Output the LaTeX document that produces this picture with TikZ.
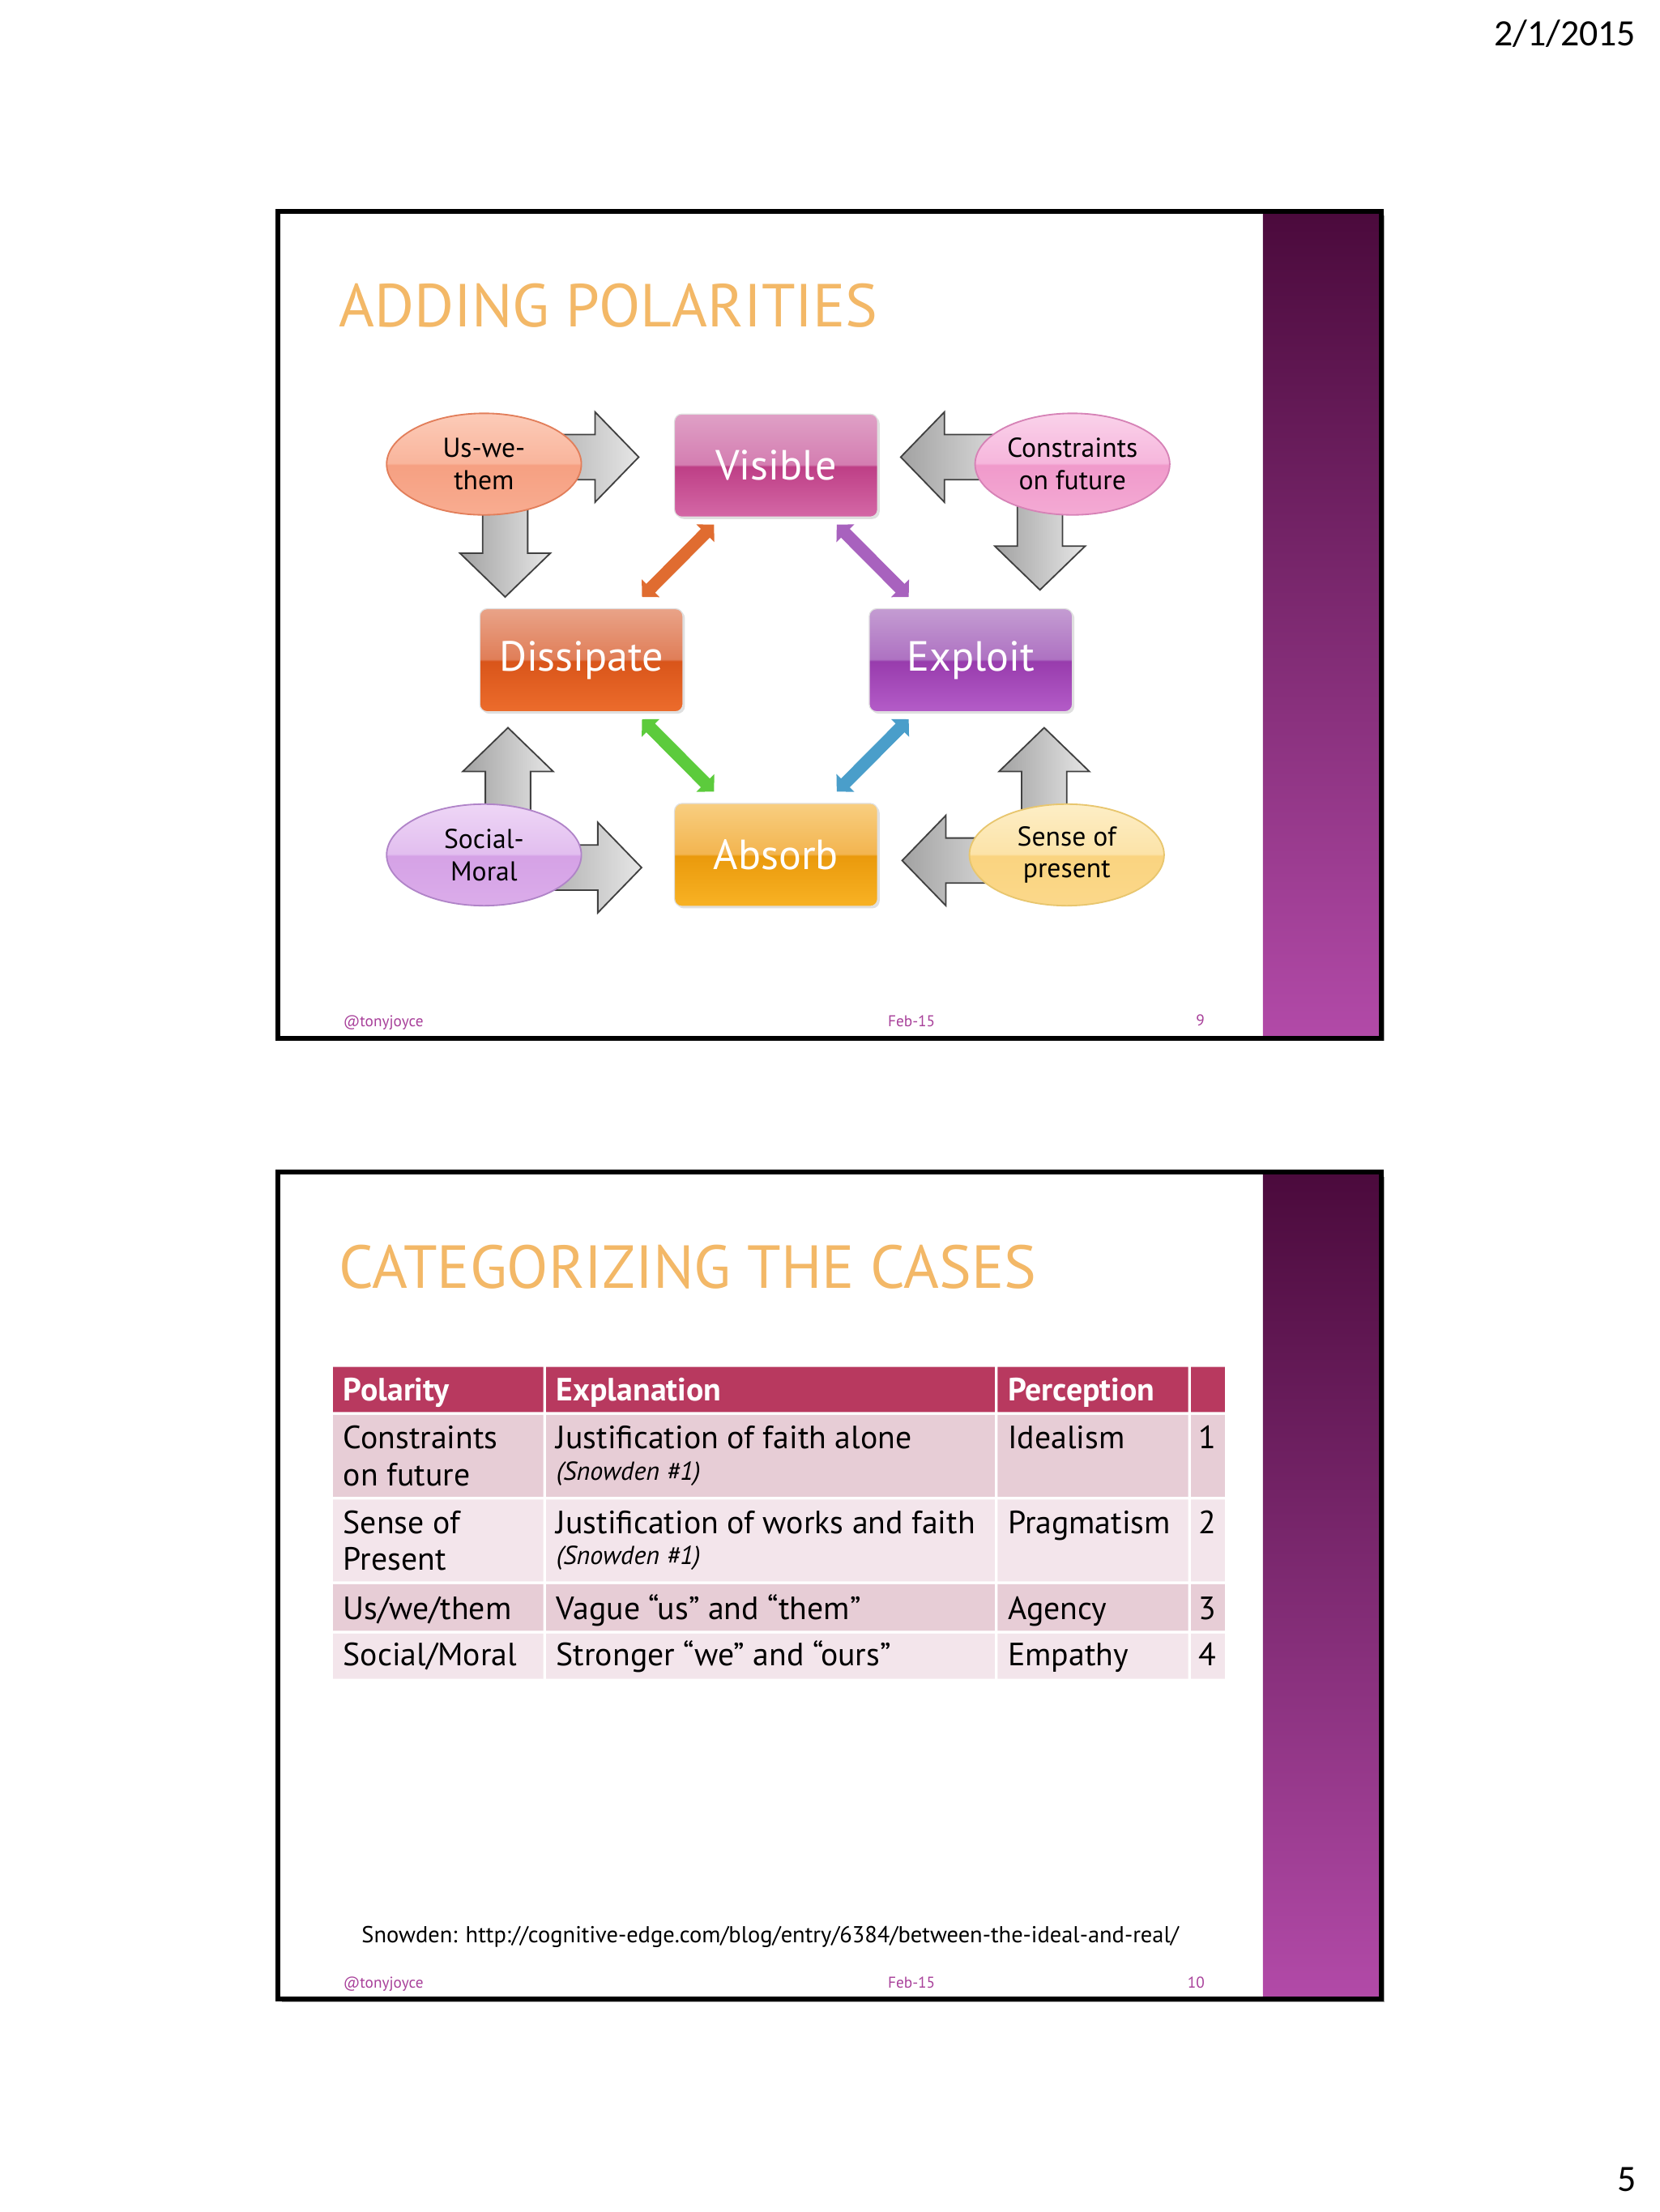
\documentclass[tikz,border=0pt]{standalone}
\usepackage{fontspec}
\setmainfont{PT Sans}
\newfontfamily\titlefont{PT Sans}
\newfontfamily\pagefont{Carlito}
\usetikzlibrary{calc,shapes.geometric,arrows.meta,shadows}

\definecolor{titleorange}{HTML}{F3B867}
\definecolor{bandtop}{HTML}{4B0A3C}
\definecolor{bandbot}{HTML}{B24AA8}
\definecolor{footpink}{HTML}{A8409A}
\definecolor{headrow}{HTML}{B8395F}
\definecolor{rowdark}{HTML}{E7CDD6}
\definecolor{rowlight}{HTML}{F3E5EB}
\definecolor{arrowdark}{HTML}{A2A2A2}
\definecolor{arrowlight}{HTML}{E6E6E6}

% glossy fills: bottom, below middle, above middle, top
\newcommand\glossshade[5]{%
  \pgfdeclareverticalshading{#1}{100bp}{color(0bp)=(#2); color(25bp)=(#2);
    color(49.5bp)=(#3); color(50.5bp)=(#4); color(75bp)=(#5); color(100bp)=(#5)}}
\definecolor{visA}{HTML}{D468A6}\definecolor{visB}{HTML}{BE3F86}\definecolor{visC}{HTML}{D47EB1}\definecolor{visD}{HTML}{DFA0C6}
\definecolor{disA}{HTML}{EC6C2C}\definecolor{disB}{HTML}{D9551A}\definecolor{disC}{HTML}{E07E58}\definecolor{disD}{HTML}{E9A388}
\definecolor{expA}{HTML}{B45CC8}\definecolor{expB}{HTML}{983CAD}\definecolor{expC}{HTML}{AE72C2}\definecolor{expD}{HTML}{C49CD2}
\definecolor{absA}{HTML}{F8B224}\definecolor{absB}{HTML}{EA9A0C}\definecolor{absC}{HTML}{F3B550}\definecolor{absD}{HTML}{F8CE80}
\definecolor{uswA}{HTML}{F8AC90}\definecolor{uswB}{HTML}{F6A082}\definecolor{uswC}{HTML}{F9B59C}\definecolor{uswD}{HTML}{FCCBB8}
\definecolor{conA}{HTML}{F4AAD4}\definecolor{conB}{HTML}{F09ACB}\definecolor{conC}{HTML}{F6B6DC}\definecolor{conD}{HTML}{FAD2EA}
\definecolor{socA}{HTML}{DBACEA}\definecolor{socB}{HTML}{D5A2E6}\definecolor{socC}{HTML}{E2BEEF}\definecolor{socD}{HTML}{EED6F6}
\definecolor{senA}{HTML}{FBD88A}\definecolor{senB}{HTML}{FAD480}\definecolor{senC}{HTML}{FCE3A8}\definecolor{senD}{HTML}{FDEEC6}
\glossshade{visgloss}{visA}{visB}{visC}{visD}
\glossshade{disgloss}{disA}{disB}{disC}{disD}
\glossshade{expgloss}{expA}{expB}{expC}{expD}
\glossshade{absgloss}{absA}{absB}{absC}{absD}
\glossshade{uswgloss}{uswA}{uswB}{uswC}{uswD}
\glossshade{congloss}{conA}{conB}{conC}{conD}
\glossshade{socgloss}{socA}{socB}{socC}{socD}
\glossshade{sengloss}{senA}{senB}{senC}{senD}

\tikzset{
  frame/.style={draw=black,line width=2},
  band/.style={top color=bandtop,bottom color=bandbot},
  slidetitle/.style={font=\titlefont\fontsize{24.5}{28}\selectfont,text=titleorange,inner sep=0pt,anchor=base west},
  stage/.style={rectangle,rounded corners=3pt,minimum width=2.88cm,minimum height=1.46cm,
    draw=black!12,line width=0.4pt,text=white,font=\fontsize{17}{20}\selectfont,
    drop shadow={shadow xshift=0.8pt,shadow yshift=-0.8pt,opacity=0.25}},
  pole/.style={ellipse,minimum width=2.76cm,minimum height=1.44cm,inner sep=0pt,line width=0.6pt,
    align=center,font=\fontsize{11}{13}\selectfont},
  grayarrow/.style={draw=black!75,line width=0.6pt,left color=arrowdark,right color=arrowlight},
  link/.style={line width=5pt,{Triangle[angle=90:7pt]}-{Triangle[angle=90:7pt]}},
  cell/.style={inner sep=0pt,anchor=base west,font=\fontsize{13}{15}\selectfont},
  headcell/.style={cell,text=white,font=\bfseries\fontsize{13}{15}\selectfont},
  note/.style={inner sep=0pt,anchor=base west,font=\itshape\fontsize{10.5}{12}\selectfont},
  foot/.style={inner sep=0pt,font=\fontsize{6.3}{7}\selectfont,text=footpink},
  pagetext/.style={inner sep=0pt,font=\pagefont\fontsize{15}{18}\selectfont},
  pics/blockarrow/.style={code={
    \path[grayarrow] (0,0) -- (-31,32) -- (-31,16) -- (-85,16) -- (-85,-16) -- (-31,-16) -- (-31,-32) -- cycle;
  }}
}

\begin{document}
\begin{tikzpicture}[x=0.02cm,y=-0.02cm]
\useasboundingbox (0,0) rectangle (1176,1568);

% page date and number
\node[pagetext] (date) at (1109,24) {2/1/2015};
\node[pagetext] (pagenum) at (1153,1545) {5};

% ---------- slide 9 ----------
\fill[black!35] (200,153) rectangle (981,738);
\fill[white] (197,150) rectangle (979,736);
\shade[band] (895,150) rectangle (979,736);
\draw[frame] (197,150) rectangle (979,736);
\node[slidetitle] (title9) at (240,231.5) {ADDING POLARITIES};

% four stages
\node[stage,shading=visgloss] (vis) at (550,330) {Visible};
\node[stage,shading=disgloss] (dis) at (412,468) {Dissipate};
\node[stage,shading=expgloss] (exp) at (688,468) {Exploit};
\node[stage,shading=absgloss] (abs) at (550,606) {Absorb};

% links between stages
\draw[link,color={rgb,255:red,224;green,108;blue,48}] ($(dis.north)+(43,-8)$) -- ($(vis.south)+(-44,5)$);
\draw[link,color={rgb,255:red,168;green,98;blue,190}] ($(vis.south)+(43,5)$) -- ($(exp.north)+(-44,-8)$);
\draw[link,color={rgb,255:red,92;green,203;blue,60}] ($(dis.south)+(43,5)$) -- ($(abs.north)+(-44,-8)$);
\draw[link,color={rgb,255:red,74;green,158;blue,202}] ($(exp.south)+(-44,5)$) -- ($(abs.north)+(43,-8)$);

% gray block arrows
\pic at ($(vis.west)+(-25,-6)$) {blockarrow};
\pic[rotate=-90] at ($(dis.north)+(-54,-8)$) {blockarrow};
\pic[rotate=180] at ($(vis.east)+(16,-6)$) {blockarrow};
\pic[rotate=-90] at ($(exp.north)+(49,-13)$) {blockarrow};
\pic[rotate=90] at ($(dis.south)+(-52,11)$) {blockarrow};
\pic at ($(abs.west)+(-23,9)$) {blockarrow};
\pic[rotate=180] at ($(abs.east)+(17,4)$) {blockarrow};
\pic[rotate=90] at ($(exp.south)+(52,11)$) {blockarrow};

% polarities
\node[pole,draw={rgb,255:red,226;green,126;blue,90},shading=uswgloss] (usw) at (343,329) {Us-we-\\them};
\node[pole,draw={rgb,255:red,214;green,130;blue,182},shading=congloss] (con) at (760,329) {Constraints\\on future};
\node[pole,draw={rgb,255:red,176;green,132;blue,200},shading=socgloss] (soc) at (343,606) {Social-\\Moral};
\node[pole,draw={rgb,255:red,232;green,198;blue,110},shading=sengloss] (sen) at (756,606) {Sense of\\present};

\node[foot,anchor=base west] (f9a) at (243,727.5) {@tonyjoyce};
\node[foot,anchor=base] (f9b) at (646,727.5) {Feb-15};
\node[foot,anchor=base east] (f9c) at (854,727) {9};

% ---------- slide 10 ----------
\fill[black!35] (200,834) rectangle (981,1419);
\fill[white] (197,831) rectangle (979,1417);
\shade[band] (895,831) rectangle (979,1417);
\draw[frame] (197,831) rectangle (979,1417);
\node[slidetitle] (title10) at (240,913) {CATEGORIZING THE CASES};

% table cells
\fill[headrow] (236,969) rectangle (385,1001) (387,969) rectangle (705,1001) (707,969) rectangle (842,1001) (844,969) rectangle (868,1001);
\fill[rowdark] (236,1003) rectangle (385,1061) (387,1003) rectangle (705,1061) (707,1003) rectangle (842,1061) (844,1003) rectangle (868,1061);
\fill[rowlight] (236,1063) rectangle (385,1121) (387,1063) rectangle (705,1121) (707,1063) rectangle (842,1121) (844,1063) rectangle (868,1121);
\fill[rowdark] (236,1123) rectangle (385,1156) (387,1123) rectangle (705,1156) (707,1123) rectangle (842,1156) (844,1123) rectangle (868,1156);
\fill[rowlight] (236,1158) rectangle (385,1190) (387,1158) rectangle (705,1190) (707,1158) rectangle (842,1190) (844,1158) rectangle (868,1190);

\node[headcell] (hpol) at (243,993) {Polarity};
\node[headcell] (hexp) at (394,993) {Explanation};
\node[headcell] (hper) at (714,993) {Perception};

\node[cell] (p1a) at (243,1027) {Constraints};
\node[cell] (p1b) at (243,1053) {on future};
\node[cell] (e1) at (394,1027) {Justification of faith alone};
\node[note] (n1) at (394,1049) {(Snowden \#1)};
\node[cell] (q1) at (714,1027) {Idealism};
\node[cell,anchor=base east] (k1) at (862,1027) {1};

\node[cell] (p2a) at (243,1087) {Sense of};
\node[cell] (p2b) at (243,1113) {Present};
\node[cell] (e2) at (394,1087) {Justification of works and faith};
\node[note] (n2) at (394,1109) {(Snowden \#1)};
\node[cell] (q2) at (714,1087) {Pragmatism};
\node[cell,anchor=base east] (k2) at (862,1087) {2};

\node[cell] (p3) at (243,1148) {Us/we/them};
\node[cell] (e3) at (394,1148) {Vague “us” and “them”};
\node[cell] (q3) at (714,1148) {Agency};
\node[cell,anchor=base east] (k3) at (862,1148) {3};

\node[cell] (p4) at (243,1181) {Social/Moral};
\node[cell] (e4) at (394,1181) {Stronger “we” and “ours”};
\node[cell] (q4) at (714,1181) {Empathy};
\node[cell,anchor=base east] (k4) at (862,1181) {4};

\node[inner sep=0pt,anchor=base west,font=\fontsize{9.3}{11}\selectfont] (src) at (256,1377) {Snowden: http://cognitive-edge.com/blog/entry/6384/between-the-ideal-and-real/};

\node[foot,anchor=base west] (f10a) at (243,1409) {@tonyjoyce};
\node[foot,anchor=base] (f10b) at (646,1409) {Feb-15};
\node[foot,anchor=base east] (f10c) at (854,1409) {10};
\end{tikzpicture}
\end{document}
